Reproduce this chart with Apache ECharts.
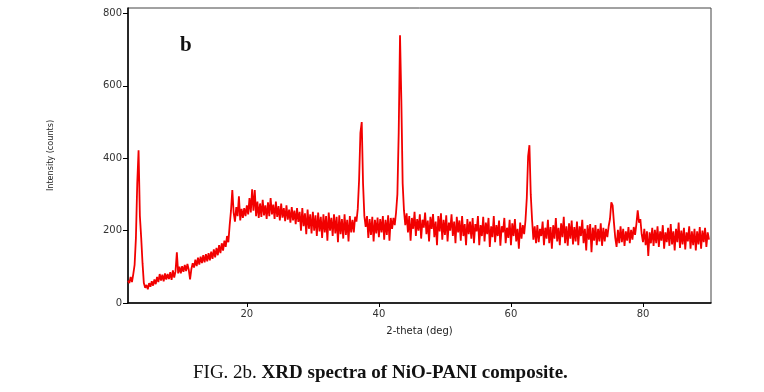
<!DOCTYPE html>
<html>
<head>
<meta charset="utf-8">
<script src="https://cdn.jsdelivr.net/npm/echarts@6/dist/echarts.min.js"></script>
<style>html,body{margin:0;padding:0;background:#fff}#c{width:764px;height:392px}</style>
</head>
<body>
<div id="c"></div>
<script>
// Sampling grid of the scan (2-theta, degrees)
var scanStart = 2.0;
var scanStep = 0.2;
// Intensity (counts), one row per 2 degrees
var intensity = [
  62,55,72,58,80,105,180,330,422,240,
  180,110,55,42,50,38,55,45,60,48,
  65,52,72,58,80,62,78,60,82,65,
  80,66,85,64,90,70,88,140,82,100,
  82,102,86,105,88,108,92,65,94,110,
  98,120,102,125,106,128,110,132,112,135,
  115,138,118,142,122,148,126,152,132,160,
  138,165,145,172,155,185,168,215,255,312,
  250,225,265,240,295,228,260,235,262,240,
  270,245,290,250,314,255,312,240,280,235,
  275,238,285,242,270,232,278,240,290,245,
  272,232,280,238,268,228,275,236,262,226,
  270,230,258,222,265,228,255,218,262,224,
  252,200,262,212,248,190,258,205,245,192,
  252,200,242,185,250,198,238,180,245,195,
  240,172,250,200,235,185,245,192,238,168,
  242,190,232,178,245,188,230,170,240,195,
  230,195,238,225,260,340,470,500,330,240,
  210,240,180,232,188,238,170,230,192,236,
  182,232,195,240,175,230,188,242,172,235,
  205,235,215,250,300,470,740,560,330,255,
  215,248,195,240,172,235,205,252,185,232,
  200,245,178,230,208,250,190,228,170,238,
  205,246,182,225,160,240,198,248,175,230,
  188,242,170,222,200,245,185,225,165,238,
  195,228,172,240,185,218,160,232,190,225,
  178,235,165,218,198,240,160,215,185,238,
  170,222,190,235,155,212,182,240,168,215,
  185,228,158,212,195,235,165,208,180,230,
  160,220,185,232,170,205,150,222,178,215,
  190,228,290,405,436,300,230,175,212,165,
  215,168,205,185,225,160,208,178,230,165,
  210,150,215,178,235,170,208,160,220,182,
  238,165,212,158,220,178,228,162,210,170,
  225,160,212,185,230,165,205,145,215,175,
  218,140,208,172,215,160,205,170,220,158,
  208,170,205,182,212,232,278,270,222,180,
  155,202,165,212,168,205,158,198,172,210,
  165,202,175,210,188,218,256,222,232,190,
  168,205,160,198,130,195,165,208,158,202,
  165,212,155,198,172,215,150,195,168,208,
  158,218,162,198,145,205,168,222,152,200,
  162,208,148,195,170,212,150,198,160,205,
  145,198,162,210,150,200,168,208,155,195,
  175
];
var xTicks = [20, 40, 60, 80];
var yTicks = [0, 200, 400, 600, 800];
var panelLabel = 'b';
var xTitle = '2-theta (deg)';
var yTitle = 'Intensity (counts)';

var seriesData = intensity.map(function (v, i) {
  return [+(scanStart + i * scanStep).toFixed(2), v];
});

var chart = echarts.init(document.getElementById('c'), null, {renderer: 'canvas'});
chart.setOption({
  animation: false,
  backgroundColor: '#fff',
  title: [
    {
      text: panelLabel, left: 175, top: 30,
      textStyle: {fontFamily: 'Liberation Serif', fontWeight: 'bold', fontSize: 21, color: '#111'}
    },
    {
      text: '{n|FIG. 2b. }{b|XRD spectra of NiO-PANI composite.}',
      left: 188, top: 359,
      textStyle: {
        fontWeight: 'normal',
        rich: {
          n: {fontFamily: 'Liberation Serif', fontSize: 19, fontWeight: 'normal', color: '#111'},
          b: {fontFamily: 'Liberation Serif', fontSize: 19, fontWeight: 'bold', color: '#111'}
        }
      }
    }
  ],
  grid: {left: 128, right: 53, top: 8, bottom: 89, show: true, borderColor: '#444', borderWidth: 1},
  xAxis: {
    type: 'value', min: 2, max: 90.3,
    name: xTitle, nameLocation: 'middle', nameGap: 23,
    nameTextStyle: {fontFamily: 'DejaVu Sans', fontSize: 10, color: '#222'},
    axisLine: {lineStyle: {color: '#000', width: 1.5}},
    axisTick: {show: true, length: 4, customValues: xTicks, lineStyle: {color: '#000'}},
    axisLabel: {customValues: xTicks, fontFamily: 'DejaVu Sans', fontSize: 10, color: '#333', margin: 6},
    splitLine: {show: false}
  },
  yAxis: {
    type: 'value', min: 0, max: 815,
    name: yTitle, nameLocation: 'middle', nameGap: 73, nameRotate: 90,
    nameTextStyle: {fontFamily: "'DejaVu Sans Condensed', 'Liberation Sans', sans-serif", fontSize: 9, color: '#222'},
    axisLine: {show: true, lineStyle: {color: '#000', width: 1.5}},
    axisTick: {show: true, length: 5, customValues: yTicks, lineStyle: {color: '#000'}},
    axisLabel: {customValues: yTicks, fontFamily: 'DejaVu Sans', fontSize: 10, color: '#333', margin: 6},
    splitLine: {show: false}
  },
  series: [{
    type: 'line',
    data: seriesData,
    showSymbol: false,
    symbol: 'none',
    lineStyle: {color: '#f20000', width: 1.8},
    sampling: null
  }]
});
</script>
</body>
</html>
